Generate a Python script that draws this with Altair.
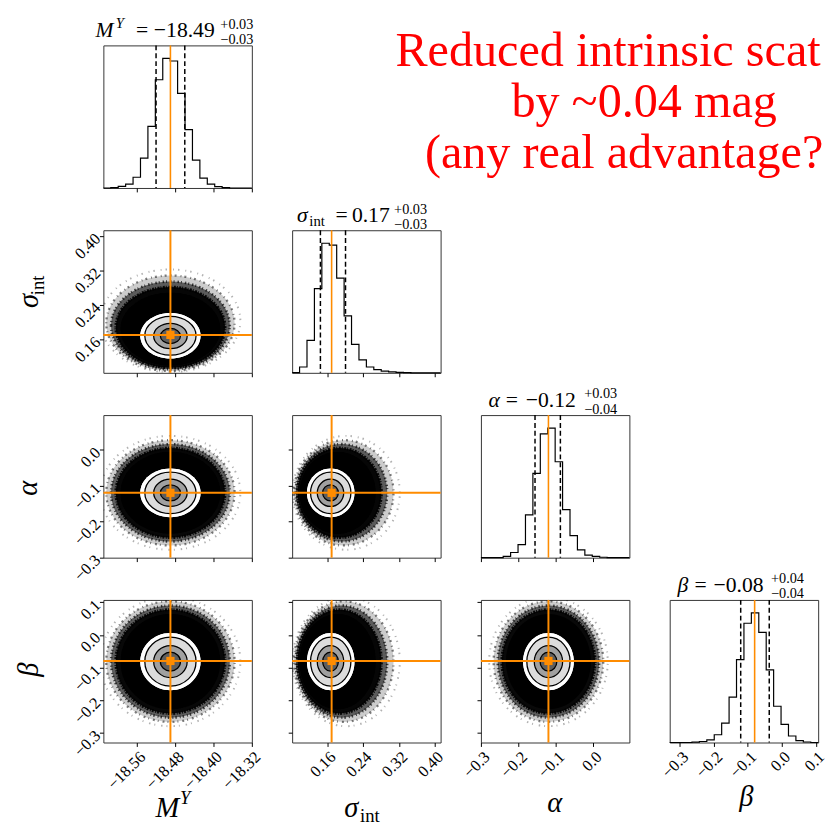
import altair as alt
import pandas as pd
import numpy as np

# ---------------- data ----------------
params = ["M", "sig", "alpha", "beta"]

M_range = [-18.63, -18.32]
sig_range = [0.082, 0.413]
alpha_range = [-0.301, 0.097]
beta_range = [-0.33, 0.107]

M_ticks = [-18.56, -18.48, -18.40, -18.32]
sig_ticks = [0.16, 0.24, 0.32, 0.40]
alpha_ticks = [-0.3, -0.2, -0.1, 0.0]
beta_ticks = [-0.3, -0.2, -0.1, 0.0, 0.1]

# normalised step-histogram heights (20 bins across each range)
M_hist = [0, 0.003, 0.013, 0.03, 0.083, 0.23, 0.476, 0.835, 1.0, 0.98,
          0.73, 0.45, 0.215, 0.076, 0.03, 0.01, 0.003, 0, 0, 0]
sig_hist = [0.002, 0.045, 0.25, 0.65, 1.0, 0.985, 0.73, 0.44, 0.22, 0.10,
            0.045, 0.025, 0.013, 0.008, 0.003, 0.001, 0, 0, 0, 0]
alpha_hist = [0, 0, 0, 0.01, 0.04, 0.10, 0.33, 0.65, 0.955, 1.0,
              0.74, 0.37, 0.17, 0.06, 0.02, 0.01, 0.003, 0, 0, 0]
beta_hist = [0, 0, 0, 0.003, 0.008, 0.02, 0.06, 0.15, 0.35, 0.64,
             0.92, 1.0, 0.85, 0.56, 0.28, 0.14, 0.05, 0.015, 0.004, 0]

medians = [-18.49, 0.17, -0.12, -0.08]
q16 = [-18.52, 0.145, -0.156, -0.121]
q84 = [-18.46, 0.201, -0.088, -0.037]

# extents of the 2-D density levels (inner contour -> outer scatter fuzz)
level_names = ["c05", "c1", "c15", "c2", "solid", "f1", "f2", "f3", "f4"]
M_lo = [-18.511, -18.525, -18.5435, -18.553, -18.594, -18.604, -18.614, -18.624, -18.636]
M_hi = [-18.469, -18.455, -18.4365, -18.427, -18.386, -18.376, -18.366, -18.356, -18.344]
sig_lo = [0.150, 0.138, 0.123, 0.115, 0.099, 0.094, 0.090, 0.086, 0.083]
sig_hi = [0.185, 0.197, 0.213, 0.221, 0.268, 0.281, 0.294, 0.308, 0.322]
alpha_lo = [-0.1425, -0.158, -0.178, -0.188, -0.234, -0.245, -0.256, -0.267, -0.279]
alpha_hi = [-0.0975, -0.082, -0.062, -0.052, -0.006, 0.005, 0.016, 0.027, 0.039]
beta_lo = [-0.111, -0.131, -0.157, -0.170, -0.228, -0.241, -0.254, -0.267, -0.280]
beta_hi = [-0.053, -0.033, -0.007, 0.006, 0.064, 0.077, 0.090, 0.103, 0.116]

title_values = ["−18.49", "0.17", "−0.12", "−0.08"]
title_plus = ["+0.03", "+0.03", "+0.03", "+0.04"]
title_minus = ["−0.03", "−0.03", "−0.04", "−0.04"]

note_lines = ["Reduced intrinsic scatter", "by ~0.04 mag", "(any real advantage?)"]

# ---------------- styling ----------------
W, H = 151, 145
FONT = "Liberation Serif"
ORANGE = "#ff8c00"
FRAME = "#333333"
level_fill = ["#5e5e5e", "#a0a0a0", "#dcdcdc", "#ffffff", "#000000",
              "#000000", "#000000", "#000000", "#000000"]
level_fillop = [1, 1, 1, 1, 1, 0.9, 0.55, 0.2, 0]
fuzz_dash = {"f1": [1, 1.5, 2, 1], "f2": [1.5, 2, 1, 3], "f3": [1, 3, 2, 4], "f4": [1, 4, 1.5, 6]}
fuzz_width = {"f1": 3, "f2": 2.6, "f3": 2.3, "f4": 2.0}
fuzz_op = {"f1": 0.9, "f2": 0.7, "f3": 0.5, "f4": 0.3}

RANGE = dict(M=M_range, sig=sig_range, alpha=alpha_range, beta=beta_range)
TICKS = dict(M=M_ticks, sig=sig_ticks, alpha=alpha_ticks, beta=beta_ticks)
FMT = dict(M=".2f", sig=".2f", alpha=".1f", beta=".1f")
HIST = dict(M=M_hist, sig=sig_hist, alpha=alpha_hist, beta=beta_hist)
LO = dict(M=M_lo, sig=sig_lo, alpha=alpha_lo, beta=beta_lo)
HI = dict(M=M_hi, sig=sig_hi, alpha=alpha_hi, beta=beta_hi)
MED = dict(zip(params, medians))
Q16 = dict(zip(params, q16))
Q84 = dict(zip(params, q84))

frame_view = alt.ViewBackground(stroke=FRAME, strokeWidth=1)
blank_view = alt.ViewBackground(stroke="transparent")


def axis_common(p, labels, angle_baseline):
    return alt.Axis(values=TICKS[p], format=FMT[p], labels=labels, title=None,
                    grid=False, domain=False, ticks=True, tickSize=4, tickWidth=1,
                    tickColor="black", labelFont=FONT, labelFontSize=16.5,
                    labelColor="black", labelAngle=-45, labelAlign="right",
                    labelBaseline=angle_baseline, labelPadding=2,
                    labelOverlap=False, labelFlush=False, labelBound=False)


def xenc(p, labels):
    return alt.X("x:Q", scale=alt.Scale(domain=RANGE[p], nice=False, zero=False),
                 axis=axis_common(p, labels, "top"))


def yenc(p, labels):
    return alt.Y("y:Q", scale=alt.Scale(domain=RANGE[p], nice=False, zero=False),
                 axis=axis_common(p, labels, "middle"))


def txt(text, dx, dy, size, italic=False, align="left", angle=0, color="black", limit=0):
    kw = dict(align=align, baseline="alphabetic", font=FONT, fontSize=size,
              fontStyle="italic" if italic else "normal", angle=angle, color=color)
    if limit:
        kw.update(limit=limit, ellipsis="\u200b")
    return alt.Chart(pd.DataFrame({"t": [text]})).mark_text(**kw).encode(
        x=alt.value(dx), y=alt.value(dy), text="t:N")


# title pieces: (text, dx, dy, size, italic, align)
TITLE_NAME = {
    "M": [("M", -8, -8.5, 22, True, "left"), ("Y", 12.5, -17.5, 15, True, "left")],
    "sig": [("σ", 5, -8.5, 22, True, "left"), ("int", 17.5, -4, 15, False, "left")],
    "alpha": [("α", 7.7, -8.5, 22, True, "left")],
    "beta": [("β", 8, -8.5, 22, True, "left")],
}
TITLE_EQ = dict(M=39.5, sig=50.3, alpha=31.5, beta=31.5)
TITLE_NUM = dict(M=82.3, sig=80, alpha=71, beta=70)
TITLE_SCR = dict(M=119, sig=103.7, alpha=105, beta=103)


def title_layers(p, i):
    out = [txt(*piece) for piece in TITLE_NAME[p]]
    out.append(txt("=", TITLE_EQ[p], -8.5, 22, False, "center"))
    out.append(txt(title_values[i], TITLE_NUM[p], -8.5, 22, False, "center"))
    out.append(txt(title_plus[i], TITLE_SCR[p], -17, 14.5, False, "left"))
    out.append(txt(title_minus[i], TITLE_SCR[p], -1.5, 14.5, False, "left"))
    return out


def bottom_label(p):
    if p == "M":
        return [txt("M", 53, H + 76, 29, True, "left"), txt("Y", 78, H + 63, 19, True, "left")]
    if p == "sig":
        return [txt("σ", 53, H + 76, 29, True, "left"), txt("int", 69, H + 81, 19, False, "left")]
    if p == "alpha":
        return [txt("α", 75, H + 71, 29, True, "center")]
    return [txt("β", 78, H + 65, 29, True, "center")]


def left_label(p):
    if p == "sig":
        return [txt("σ", -66, 72, 29, True, "center", 270),
                txt("int", -60, 56, 19, False, "center", 270)]
    if p == "alpha":
        return [txt("α", -67, 74.5, 29, True, "center", 270)]
    return [txt("β", -66, 71, 29, True, "center", 270)]


def hist_panel(i):
    p = params[i]
    lo, hi = RANGE[p]
    edges = np.linspace(lo, hi, len(HIST[p]) + 1)
    df = pd.DataFrame({"x": list(edges[:-1]) + [edges[-1]],
                       "y": HIST[p] + [HIST[p][-1]]})
    bottom = i == 3
    xe = xenc(p, bottom)
    ye = alt.Y("y:Q", scale=alt.Scale(domain=[0, 1.1], nice=False, zero=True), axis=None)
    line = alt.Chart(df).mark_line(interpolate="step-after", color="black",
                                   strokeWidth=1.2).encode(x=xe, y=ye)
    dashed = alt.Chart(pd.DataFrame({"x": [Q16[p], Q84[p]]})).mark_rule(
        color="black", strokeDash=[5, 3], strokeWidth=1.5).encode(x=xe)
    med = alt.Chart(pd.DataFrame({"x": [MED[p]]})).mark_rule(
        color=ORANGE, strokeWidth=1.6).encode(x=xe)
    layers = [line, dashed, med] + title_layers(p, i)
    if bottom:
        layers += bottom_label(p)
    return alt.layer(*layers).properties(width=W, height=H, view=frame_view)


def ellipse_path(a, b):
    return (f"M{-a:.2f},0A{a:.2f},{b:.2f},0,1,1,{a:.2f},0"
            f"A{a:.2f},{b:.2f},0,1,1,{-a:.2f},0Z")


def pair_panel(ix, iy):
    px, py = params[ix], params[iy]
    sx = W / (RANGE[px][1] - RANGE[px][0])
    sy = H / (RANGE[py][1] - RANGE[py][0])
    rows = []
    for k in reversed(range(len(level_names))):
        xl, xh = LO[px][k], HI[px][k]
        yl, yh = LO[py][k], HI[py][k]
        a = (xh - xl) / 2 * sx
        b = (yh - yl) / 2 * sy
        rows.append(dict(x=(xl + xh) / 2, y=(yl + yh) / 2, shape=ellipse_path(a, b),
                         fill=level_fill[k], op=level_fillop[k], lvl=level_names[k]))
    df = pd.DataFrame(rows)
    show_x = iy == 3
    show_y = ix == 0
    xe = xenc(px, show_x)
    ye = yenc(py, show_y)
    layers = []
    dff = df[df["op"] > 0]
    layers.append(alt.Chart(dff).mark_point(filled=True, strokeWidth=0, size=4, clip=True).encode(
        x=xe, y=ye,
        shape=alt.Shape("shape:N", scale=None),
        fill=alt.Fill("fill:N", scale=None),
        opacity=alt.Opacity("op:Q", scale=None)))
    # broken rings imitate the thinning scatter of samples at the edge
    for name in ["f4", "f3", "f2", "f1"]:
        layers.append(alt.Chart(df[df["lvl"] == name]).mark_point(
            filled=False, stroke="black", strokeWidth=fuzz_width[name],
            strokeDash=fuzz_dash[name], opacity=fuzz_op[name], size=4, clip=True).encode(
            x=xe, y=ye, shape=alt.Shape("shape:N", scale=None)))
    inner = df[df["lvl"].isin(["c2", "c15", "c1", "c05"])]
    layers.append(alt.Chart(inner).mark_point(filled=True, strokeWidth=0, size=4, clip=True).encode(
        x=xe, y=ye,
        shape=alt.Shape("shape:N", scale=None),
        fill=alt.Fill("fill:N", scale=None),
        opacity=alt.Opacity("op:Q", scale=None)))
    dfl = df[df["lvl"].isin(["c15", "c1", "c05"])]
    layers.append(alt.Chart(dfl).mark_point(filled=False, stroke="black", strokeWidth=1.3,
                                            size=4, opacity=1, clip=True).encode(
        x=xe, y=ye, shape=alt.Shape("shape:N", scale=None)))
    layers.append(alt.Chart(pd.DataFrame({"x": [MED[px]]})).mark_rule(
        color=ORANGE, strokeWidth=2).encode(x=xe))
    layers.append(alt.Chart(pd.DataFrame({"y": [MED[py]]})).mark_rule(
        color=ORANGE, strokeWidth=2).encode(y=ye))
    layers.append(alt.Chart(pd.DataFrame({"x": [MED[px]], "y": [MED[py]]})).mark_square(
        size=70, color=ORANGE, opacity=1, filled=True).encode(x=xe, y=ye))
    if show_x:
        layers += bottom_label(px)
    if show_y:
        layers += left_label(py)
    return alt.layer(*layers).properties(width=W, height=H, view=frame_view)


def blank_panel():
    return alt.Chart(pd.DataFrame({"a": [0]})).mark_point(opacity=0).encode(
        x=alt.value(0), y=alt.value(0)).properties(width=W, height=H, view=blank_view)


def note_panel():
    # text runs past the right edge in the reference, so it is cut at the page edge
    layers = [txt(note_lines[0], 105, 21, 49, False, "left", 0, "#ff0000", limit=439),
              txt(note_lines[1], 223, 73, 49, False, "left", 0, "#ff0000", limit=439),
              txt(note_lines[2], 135, 125, 49, False, "left", 0, "#ff0000", limit=412)]
    return alt.layer(*layers).properties(width=W, height=H, view=blank_view)


cells = []
for r in range(4):
    for c in range(4):
        if c == r:
            cells.append(hist_panel(r))
        elif c < r:
            cells.append(pair_panel(c, r))
        elif r == 0 and c == 1:
            cells.append(note_panel())
        else:
            cells.append(blank_panel())

chart = alt.ConcatChart(
    concat=cells, columns=4,
    spacing=alt.RowColnumber(row=43, column=41),
    bounds="flush",
).properties(
    padding={"left": 6, "top": 1, "right": 0, "bottom": 0}
).configure(font=FONT).configure_view(stroke="transparent")

chart.save("out.html", embed_options={"renderer": "svg", "actions": False})
